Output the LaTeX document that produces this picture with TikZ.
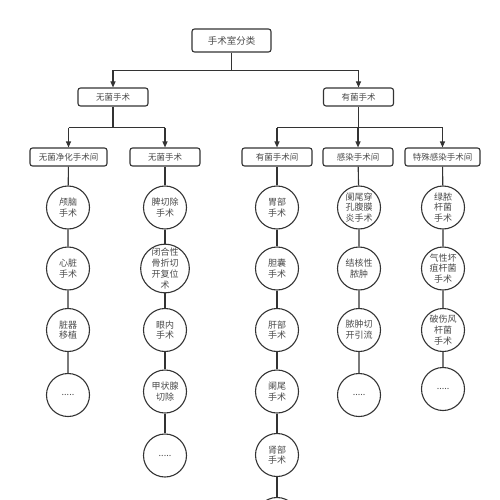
\documentclass[tikz,border=0pt]{standalone}
\usepackage{fontspec}
\newfontfamily\cjk{Noto Sans CJK SC}
\usetikzlibrary{arrows.meta}
\definecolor{linea}{HTML}{333333}
\definecolor{testo}{HTML}{4A4A4A}

\begin{document}
\begin{tikzpicture}[x=1pt, y=-1pt, line width=1.1pt]
	% Stili per scatole, cerchi e frecce
	\tikzset{scatola/.style={draw=linea, rounded corners=2.5pt, minimum width=70pt, minimum height=18pt, inner sep=2pt, text=testo, font=\cjk\fontsize{8.5}{10}\selectfont},
		cerchio/.style={circle, draw=linea, minimum size=43pt, inner sep=0pt, align=center, text=testo, font=\cjk\fontsize{9}{10.8}\selectfont},
		freccia/.style={draw=linea, -{Triangle[length=6pt, width=5pt]}},
		linea/.style={draw=linea}}
	\useasboundingbox (0,0) rectangle (500,500);
	
	% Radice e primo livello
	\node[scatola, minimum width=79pt, minimum height=23pt, font=\cjk\fontsize{9.5}{11}\selectfont] (radice) at (231.5,40.5) {手术室分类};
	\node[scatola] (asettici) at (113,97) {无菌手术};
	\node[scatola] (settici) at (358.5,97) {有菌手术};
	
	% Secondo livello
	\node[scatola, minimum width=77pt] (puliti) at (68.5,157) {无菌净化手术间};
	\node[scatola] (sterili) at (165,157) {无菌手术};
	\node[scatola] (batteri) at (277,157) {有菌手术间};
	\node[scatola] (infetti) at (358,157) {感染手术间};
	\node[scatola, minimum width=75pt] (speciali) at (442.5,157) {特殊感染手术间};
	
	% Punti di diramazione
	\coordinate (d0) at (231.5,70.5);
	\coordinate (d1) at (113,127.5);
	\coordinate (d2) at (358.5,127.5);
	
	% Colonna 1
	\node[cerchio] (a1) at (68,207.5) {颅脑\\手术};
	\node[cerchio] (a2) at (68,268.5) {心脏\\手术};
	\node[cerchio] (a3) at (68,330) {脏器\\移植};
	\node[cerchio] (a4) at (68,395) {.....};
	
	% Colonna 2
	\node[cerchio] (b1) at (165,207.5) {脾切除\\手术};
	\node[cerchio] (b2) at (165,268.5) {闭合性\\骨折切\\开复位\\术};
	\node[cerchio] (b3) at (165,330) {眼内\\手术};
	\node[cerchio] (b4) at (165,391.5) {甲状腺\\切除};
	\node[cerchio] (b5) at (165,455.5) {.....};
	
	% Colonna 3
	\node[cerchio] (c1) at (277,207.5) {胃部\\手术};
	\node[cerchio] (c2) at (277,268.5) {胆囊\\手术};
	\node[cerchio] (c3) at (277,330) {肝部\\手术};
	\node[cerchio] (c4) at (277,391.5) {阑尾\\手术};
	\node[cerchio] (c5) at (277,455) {肾部\\手术};
	\node[cerchio] (c6) at (277,519) {};
	
	% Colonna 4
	\node[cerchio] (e1) at (359,207.5) {阑尾穿\\孔腹膜\\炎手术};
	\node[cerchio] (e2) at (359,268.5) {结核性\\脓肿};
	\node[cerchio] (e3) at (359,330) {脓肿切\\开引流};
	\node[cerchio] (e4) at (359,395) {.....};
	
	% Colonna 5
	\node[cerchio] (f1) at (443,207.5) {绿脓\\杆菌\\手术};
	\node[cerchio] (f2) at (443,268.5) {气性坏\\疽杆菌\\手术};
	\node[cerchio] (f3) at (443,330) {破伤风\\杆菌\\手术};
	\node[cerchio] (f4) at (443,389) {.....};
	
	% Barre orizzontali
	\draw[linea] (radice) -- (d0);
	\draw[linea] (asettici |- d0) -- (settici |- d0);
	\draw[linea] (asettici) -- (d1);
	\draw[linea] (puliti |- d1) -- (sterili |- d1);
	\draw[linea] (settici) -- (d2);
	\draw[linea] (batteri |- d2) -- (speciali |- d2);
	
	% Frecce verso i nodi
	\draw[freccia] (asettici |- d0) -- (asettici);
	\draw[freccia] (settici |- d0) -- (settici);
	\draw[freccia] (puliti |- d1) -- (puliti);
	\draw[freccia] (sterili |- d1) -- (sterili);
	\draw[freccia] (batteri |- d2) -- (batteri);
	\draw[freccia] (infetti |- d2) -- (infetti);
	\draw[freccia] (speciali |- d2) -- (speciali);
	
	% Linee delle colonne
	\draw[linea] (puliti) -- (a1) -- (a2) -- (a3) -- (a4);
	\draw[linea] (sterili) -- (b1) -- (b2) -- (b3) -- (b4) -- (b5);
	\draw[linea] (batteri) -- (c1) -- (c2) -- (c3) -- (c4) -- (c5) -- (c6);
	\draw[linea] (infetti) -- (e1) -- (e2) -- (e3) -- (e4);
	\draw[linea] (speciali) -- (f1) -- (f2) -- (f3) -- (f4);
\end{tikzpicture}
\end{document}
